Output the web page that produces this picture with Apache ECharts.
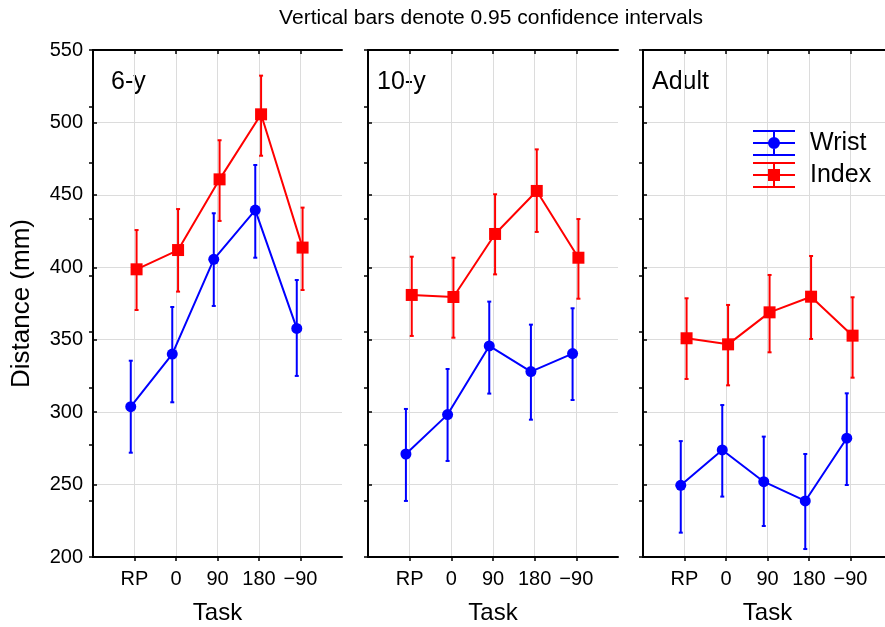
<!DOCTYPE html>
<html>
<head>
<meta charset="utf-8">
<script src="https://cdn.jsdelivr.net/npm/echarts@6/dist/echarts.min.js"></script>
<style>
html,body{margin:0;padding:0;background:#fff;}
#chart{width:885px;height:627px;}
</style>
</head>
<body>
<div id="chart"></div>
<script>
// ---- data ----
const tasks = ['RP', '0', '90', '180', '\u221290'];
const panelNames = ['6-y', '10-y', 'Adult'];
const yTicks = [200, 250, 300, 350, 400, 450, 500, 550];

// 6-y
const wrist6 = [303.8, 340.1, 405.5, 439.5, 357.8];
const wrist6Lo = [272.0, 306.8, 373.3, 406.6, 325.0];
const wrist6Hi = [335.5, 372.6, 437.3, 470.6, 391.2];
const index6 = [398.6, 411.9, 460.7, 505.6, 413.6];
const index6Lo = [370.5, 383.2, 432.0, 477.0, 384.3];
const index6Hi = [425.7, 440.2, 487.7, 532.3, 441.2];
// 10-y
const wrist10 = [271.1, 298.3, 345.7, 328.0, 340.4];
const wrist10Lo = [238.7, 266.3, 312.8, 294.8, 308.4];
const wrist10Hi = [302.2, 329.8, 376.3, 360.4, 371.7];
const index10 = [380.9, 379.5, 423.0, 452.7, 406.6];
const index10Lo = [352.6, 351.4, 395.1, 424.4, 378.3];
const index10Hi = [407.3, 406.6, 450.4, 481.4, 433.3];
// Adult
const wristA = [249.5, 273.9, 252.0, 238.7, 282.0];
const wristALo = [216.8, 241.7, 221.4, 205.5, 249.7];
const wristAHi = [280.0, 304.9, 283.1, 271.1, 313.0];
const indexA = [351.0, 346.8, 368.9, 379.7, 352.8];
const indexALo = [322.9, 318.5, 341.3, 350.5, 323.8];
const indexAHi = [378.6, 374.0, 394.7, 407.8, 379.3];

const panelData = [
  {wrist: wrist6, wLo: wrist6Lo, wHi: wrist6Hi, index: index6, iLo: index6Lo, iHi: index6Hi},
  {wrist: wrist10, wLo: wrist10Lo, wHi: wrist10Hi, index: index10, iLo: index10Lo, iHi: index10Hi},
  {wrist: wristA, wLo: wristALo, wHi: wristAHi, index: indexA, iLo: indexALo, iHi: indexAHi}
];

// ---- styling / layout ----
const FONT = '"Liberation Sans", Arial, sans-serif';
const BLUE = '#0000ff';
const RED = '#ff0000';
const GRIDC = '#dcdcdc';
const WRIST_OFF = -0.09, INDEX_OFF = 0.05;
const gridPos = [
  {left: 93, width: 249},
  {left: 368, width: 250},
  {left: 643, width: 249}
];
const TOP = 50, HEIGHT = 507;

const chart = echarts.init(document.getElementById('chart'), null, {renderer: 'canvas'});

const grids = [], xAxes = [], yAxes = [], series = [];

function errRender(color) {
  return function (params, api) {
    const x = api.value(0);
    const lo = api.coord([x, api.value(1)]);
    const hi = api.coord([x, api.value(2)]);
    const c = 2;
    const st = {stroke: color, lineWidth: 2, fill: null};
    return {
      type: 'group',
      children: [
        {type: 'line', shape: {x1: lo[0], y1: lo[1], x2: hi[0], y2: hi[1]}, style: st},
        {type: 'line', shape: {x1: hi[0] - c, y1: hi[1], x2: hi[0] + c, y2: hi[1]}, style: st},
        {type: 'line', shape: {x1: lo[0] - c, y1: lo[1], x2: lo[0] + c, y2: lo[1]}, style: st}
      ]
    };
  };
}

panelData.forEach((pd, i) => {
  grids.push({left: gridPos[i].left, width: gridPos[i].width, top: TOP, height: HEIGHT,
    containLabel: false, outerBoundsMode: 'none'});
  // bottom x axis
  xAxes.push({
    type: 'value', gridIndex: i, min: 0, max: 6, interval: 1, position: 'bottom',
    axisLine: {show: true, lineStyle: {color: '#000', width: 2}},
    axisTick: {show: true, inside: false, length: 4, lineStyle: {color: '#000', width: 1.5}, customValues: [1, 2, 3, 4, 5]},
    axisLabel: {show: true, margin: 12, fontSize: 20, color: '#000', fontFamily: FONT,
      customValues: [1, 2, 3, 4, 5],
      formatter: v => tasks[Math.round(v) - 1] || ''},
    splitLine: {show: true, lineStyle: {color: GRIDC, width: 1}},
    name: 'Task', nameLocation: 'middle', nameGap: 44,
    nameTextStyle: {fontSize: 24, color: '#000', fontFamily: FONT}
  });
  // top x axis
  xAxes.push({
    type: 'value', gridIndex: i, min: 0, max: 6, interval: 1, position: 'top',
    axisLine: {show: true, lineStyle: {color: '#000', width: 2}},
    axisTick: {show: true, inside: true, length: 4, lineStyle: {color: '#000', width: 1.5}, customValues: [1, 2, 3, 4, 5]},
    axisLabel: {show: false},
    splitLine: {show: false}
  });
  // left y axis
  yAxes.push({
    type: 'value', gridIndex: i, min: 200, max: 550, interval: 50, position: 'left',
    axisLine: {show: true, lineStyle: {color: '#000', width: 2}},
    axisTick: {show: true, inside: true, length: 4, lineStyle: {color: '#000', width: 1.5}},
    axisLabel: {show: i === 0, margin: 10, fontSize: 20, color: '#000', fontFamily: FONT},
    splitLine: {show: true, lineStyle: {color: GRIDC, width: 1}},
    name: i === 0 ? 'Distance (mm)' : '', nameLocation: 'middle', nameGap: 58, nameRotate: 90,
    nameTextStyle: {fontSize: 26, color: '#000', fontFamily: FONT}
  });
  // right y axis
  yAxes.push({
    type: 'value', gridIndex: i, min: 0, max: 9, interval: 1, position: 'right',
    axisLine: {show: true, lineStyle: {color: '#000', width: 2}},
    axisTick: {show: true, inside: true, length: 4, lineStyle: {color: '#000', width: 1.5}},
    axisLabel: {show: false},
    splitLine: {show: false}
  });

  const xb = i * 2, yl = i * 2;
  series.push({
    type: 'custom', name: 'Wrist', xAxisIndex: xb, yAxisIndex: yl, z: 2,
    renderItem: errRender(BLUE), itemStyle: {color: BLUE},
    encode: {x: 0, y: [1, 2]},
    data: pd.wrist.map((m, k) => [k + 1 + WRIST_OFF, pd.wLo[k], pd.wHi[k]]),
    silent: true
  });
  series.push({
    type: 'custom', name: 'Index', xAxisIndex: xb, yAxisIndex: yl, z: 2,
    renderItem: errRender(RED), itemStyle: {color: RED},
    encode: {x: 0, y: [1, 2]},
    data: pd.index.map((m, k) => [k + 1 + INDEX_OFF, pd.iLo[k], pd.iHi[k]]),
    silent: true
  });
  series.push({
    type: 'line', name: 'Wrist', xAxisIndex: xb, yAxisIndex: yl, z: 3,
    symbol: 'circle', symbolSize: 11, showSymbol: true,
    lineStyle: {color: BLUE, width: 2}, itemStyle: {color: BLUE},
    data: pd.wrist.map((m, k) => [k + 1 + WRIST_OFF, m]),
    animation: false, silent: true
  });
  series.push({
    type: 'line', name: 'Index', xAxisIndex: xb, yAxisIndex: yl, z: 4,
    symbol: 'rect', symbolSize: 12, showSymbol: true,
    lineStyle: {color: RED, width: 2}, itemStyle: {color: RED},
    data: pd.index.map((m, k) => [k + 1 + INDEX_OFF, m]),
    animation: false, silent: true
  });
});

const capPath = 'M0,0 H42 V2 H0 Z M0,24 H42 V26 H0 Z M0,12 H42 V14 H0 Z M20,0 H22 V26 H20 Z ';
const wristIcon = 'path://' + capPath + 'M15,13 A6,6 0 1,1 27,13 A6,6 0 1,1 15,13 Z';
const indexIcon = 'path://' + capPath + 'M15,7 H27 V19 H15 Z';

const option = {
  animation: false,
  backgroundColor: '#fff',
  textStyle: {fontFamily: FONT},
  grid: grids,
  xAxis: xAxes,
  yAxis: yAxes,
  series: series,
  legend: {
    orient: 'vertical', left: 753, top: 130, padding: 0, itemGap: 6,
    itemWidth: 42, itemHeight: 26, selectedMode: false,
    textStyle: {fontSize: 25, color: '#000', fontFamily: FONT, padding: [2, 0, 0, 10]},
    data: [
      {name: 'Wrist', icon: wristIcon, itemStyle: {color: BLUE}},
      {name: 'Index', icon: indexIcon, itemStyle: {color: RED}}
    ]
  },
  graphic: [
    {type: 'text', x: 491, y: 18, style: {text: 'Vertical bars denote 0.95 confidence intervals',
      font: '21px ' + FONT, fill: '#000', textAlign: 'center', textVerticalAlign: 'middle', align: 'center', verticalAlign: 'middle'}},
    {type: 'text', x: 111, y: 82, style: {text: panelNames[0], font: '25px ' + FONT, fill: '#000',
      textAlign: 'left', textVerticalAlign: 'middle', align: 'left', verticalAlign: 'middle'}},
    {type: 'text', x: 377, y: 82, style: {text: panelNames[1], font: '25px ' + FONT, fill: '#000',
      textAlign: 'left', textVerticalAlign: 'middle', align: 'left', verticalAlign: 'middle'}},
    {type: 'text', x: 652, y: 82, style: {text: panelNames[2], font: '25px ' + FONT, fill: '#000',
      textAlign: 'left', textVerticalAlign: 'middle', align: 'left', verticalAlign: 'middle'}}
  ]
};
chart.setOption(option);
</script>
</body>
</html>
